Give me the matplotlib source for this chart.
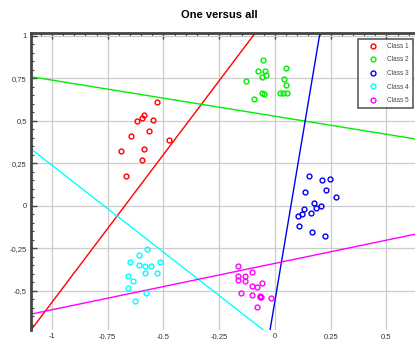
import matplotlib
matplotlib.use("Agg")
import matplotlib.pyplot as plt
from matplotlib.ticker import MultipleLocator, FuncFormatter

plt.rcParams["font.family"] = ["Liberation Sans", "DejaVu Sans"]

# --- data ------------------------------------------------------------------
class_names = ["Class 1", "Class 2", "Class 3", "Class 4", "Class 5"]
class_colors = ["#ff0000", "#00ee00", "#0000ee", "#00ffff", "#ff00ff"]

c1_x = [-0.529, -0.589, -0.596, -0.619, -0.546, -0.566, -0.644, -0.477, -0.689, -0.586, -0.596, -0.668]
c1_y = [0.612, 0.533, 0.516, 0.500, 0.504, 0.443, 0.412, 0.390, 0.324, 0.333, 0.272, 0.175]

c2_x = [-0.055, 0.051, -0.075, -0.043, -0.040, -0.060, 0.040, -0.130, 0.051, -0.060, -0.048, 0.022, 0.037, 0.055, -0.094]
c2_y = [0.857, 0.810, 0.794, 0.794, 0.771, 0.761, 0.749, 0.733, 0.714, 0.667, 0.661, 0.667, 0.663, 0.667, 0.629]

c3_x = [0.152, 0.211, 0.245, 0.135, 0.227, 0.272, 0.175, 0.208, 0.182, 0.130, 0.160, 0.123, 0.102, 0.108, 0.164, 0.226]
c3_y = [0.178, 0.153, 0.157, 0.080, 0.096, 0.051, 0.020, -0.002, -0.014, -0.018, -0.039, -0.049, -0.059, -0.116, -0.153, -0.176]

c4_x = [-0.574, -0.611, -0.649, -0.611, -0.581, -0.556, -0.517, -0.581, -0.529, -0.659, -0.637, -0.659, -0.577, -0.626]
c4_y = [-0.255, -0.288, -0.331, -0.345, -0.355, -0.355, -0.331, -0.396, -0.396, -0.412, -0.443, -0.484, -0.510, -0.561]

c5_x = [-0.167, -0.102, -0.167, -0.136, -0.167, -0.136, -0.057, -0.105, -0.082, -0.154, -0.105, -0.066, -0.064, -0.069, -0.019, -0.079]
c5_y = [-0.355, -0.386, -0.410, -0.410, -0.437, -0.439, -0.453, -0.469, -0.475, -0.510, -0.522, -0.528, -0.538, -0.533, -0.539, -0.592]

# one-versus-all separating lines: y = slope * x + intercept
line_slopes = [1.738, -0.2125, 7.81, -1.022, 0.273]
line_intercepts = [1.171, 0.5275, -0.558, -0.783, -0.338]

XLIM = (-1.094, 0.628)
YLIM = (-0.73, 1.02)

xs = [c1_x, c2_x, c3_x, c4_x, c5_x]
ys = [c1_y, c2_y, c3_y, c4_y, c5_y]

# --- figure ----------------------------------------------------------------
fig = plt.figure(figsize=(4.15, 3.39), dpi=100)
ax = fig.add_axes([31 / 415, 1 - 330 / 339, 1 - 31 / 415, (330 - 32.5) / 339])

for m, b, col in zip(line_slopes, line_intercepts, class_colors):
    ax.axline((0, b), slope=m, color=col, lw=1.0, zorder=2)

for x, y, col, name in zip(xs, ys, class_colors, class_names):
    ax.plot(x, y, "o", ls="none", ms=3.5, mfc="none", mec=col, mew=1.0,
            label=name, zorder=3)

ax.set_xlim(*XLIM)
ax.set_ylim(*YLIM)

ax.xaxis.set_major_locator(MultipleLocator(0.25))
ax.yaxis.set_major_locator(MultipleLocator(0.25))
ax.xaxis.set_minor_locator(MultipleLocator(0.05))
ax.yaxis.set_minor_locator(MultipleLocator(0.05))


def comma_fmt(v, pos):
    s = f"{v:g}".replace(".", ",")
    return "0" if s == "-0" else s


ax.xaxis.set_major_formatter(FuncFormatter(comma_fmt))
ax.yaxis.set_major_formatter(FuncFormatter(comma_fmt))

ax.grid(True, which="major", color="#cccccc", lw=0.9, zorder=0)
ax.set_axisbelow(True)

for side in ("right", "bottom"):
    ax.spines[side].set_visible(False)
for side in ("left", "top"):
    ax.spines[side].set_color("#444444")
    ax.spines[side].set_linewidth(2.0)

ax.tick_params(axis="both", which="both", direction="in", colors="#444444",
               labelcolor="#333333", labelsize=5.5)
ax.tick_params(axis="y", which="major", length=4, width=1, right=False, pad=3)
ax.tick_params(axis="y", which="minor", length=2.5, width=0.8, right=False)
ax.tick_params(axis="x", which="major", length=4, width=1, top=True, bottom=False, pad=2)
ax.tick_params(axis="x", which="minor", length=2.5, width=0.8, top=True, bottom=False)

leg = ax.legend(loc="upper right", bbox_to_anchor=((413 - 31) / 384, (330 - 39) / 297.5),
                fontsize=4.7, frameon=True, fancybox=False, borderpad=0.6,
                labelspacing=1.0, handletextpad=0.45, handlelength=3.4,
                borderaxespad=0)
leg.get_frame().set_edgecolor("#333333")
leg.get_frame().set_linewidth(1.2)
for t in leg.get_texts():
    t.set_color("#444444")

fig.text(219 / 415, 1 - 15 / 339, "One versus all", ha="center", va="center",
         fontsize=8, fontweight="bold")

fig.savefig("out.png", dpi=100)
